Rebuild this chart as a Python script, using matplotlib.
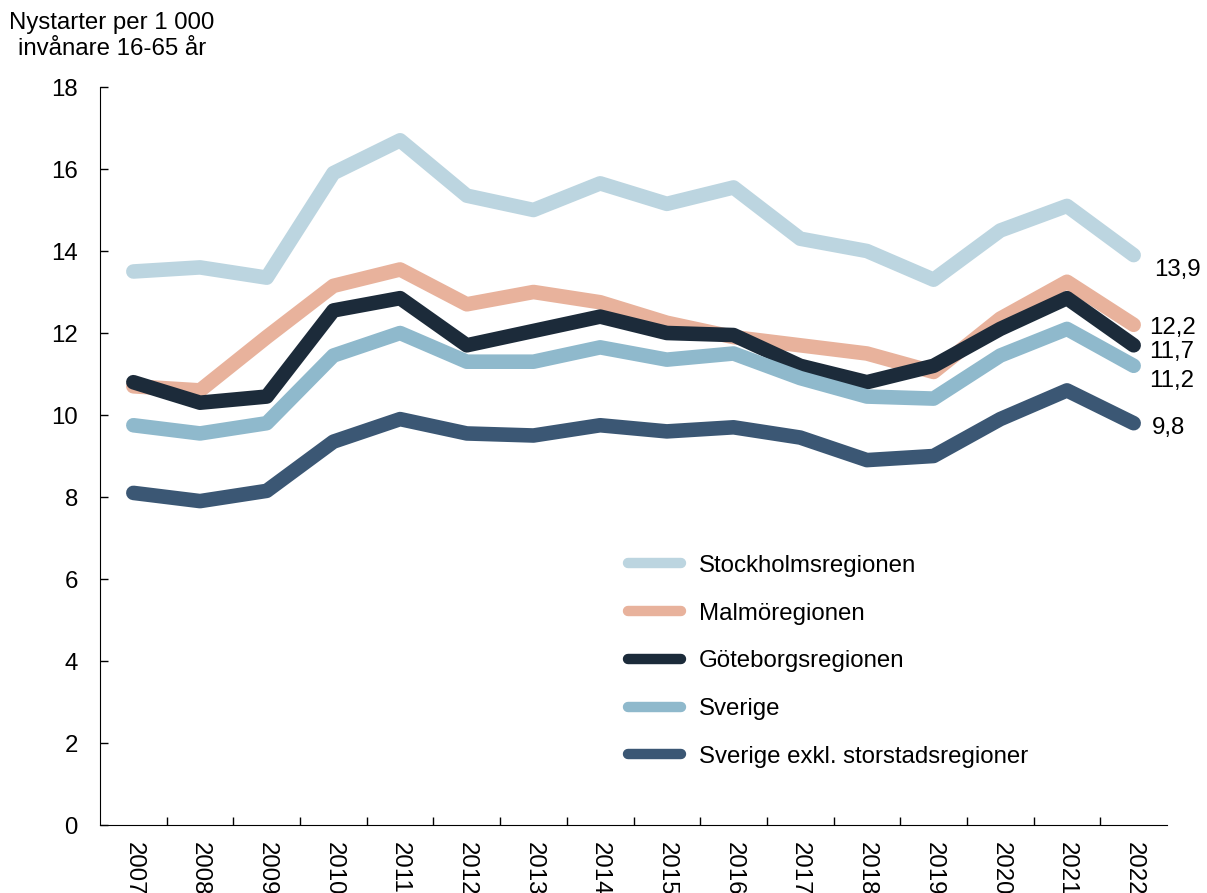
import matplotlib
matplotlib.use("Agg")
import matplotlib.pyplot as plt

years = ["2007", "2008", "2009", "2010", "2011", "2012", "2013", "2014",
         "2015", "2016", "2017", "2018", "2019", "2020", "2021", "2022"]

stockholm = [13.5, 13.6, 13.35, 15.9, 16.7, 15.35, 15.0, 15.65,
             15.15, 15.55, 14.3, 14.0, 13.3, 14.5, 15.1, 13.9]
malmo = [10.7, 10.6, 11.9, 13.15, 13.55, 12.7, 13.0, 12.75,
         12.25, 11.9, 11.7, 11.5, 11.05, 12.35, 13.25, 12.2]
goteborg = [10.8, 10.3, 10.45, 12.55, 12.85, 11.7, 12.05, 12.4,
            12.0, 11.95, 11.2, 10.8, 11.2, 12.1, 12.85, 11.7]
sverige = [9.75, 9.55, 9.8, 11.45, 12.0, 11.3, 11.3, 11.65,
           11.35, 11.5, 10.9, 10.45, 10.4, 11.45, 12.1, 11.2]
exkl = [8.1, 7.9, 8.15, 9.35, 9.9, 9.55, 9.5, 9.75,
        9.6, 9.7, 9.45, 8.9, 9.0, 9.9, 10.6, 9.8]

names = ["Stockholmsregionen", "Malmöregionen", "Göteborgsregionen",
         "Sverige", "Sverige exkl. storstadsregioner"]
colors = ["#bcd5e0", "#e8b29c", "#1c2b3a", "#8fb9cc", "#3b5774"]
# small nudges for the end labels so they don't collide
label_dy = [-0.37, -0.07, -0.17, -0.37, -0.12]
label_dx = [0.3, 0.23, 0.23, 0.23, 0.28]

plt.rcParams["font.family"] = ["Liberation Sans", "DejaVu Sans"]
FS = 17.3

fig = plt.figure(figsize=(12.07, 8.93), dpi=100)
ax = fig.add_axes([100 / 1207, 1 - 825 / 893, 1067 / 1207, (825 - 87) / 893])

x = list(range(len(years)))
series = [stockholm, malmo, goteborg, sverige, exkl]
for vals, name, col, dx, dy in zip(series, names, colors, label_dx, label_dy):
    ax.plot(x, vals, color=col, lw=10.5, solid_capstyle="round",
            solid_joinstyle="round", label=name)
    ax.text(x[-1] + dx, vals[-1] + dy, f"{vals[-1]:.1f}".replace(".", ","),
            fontsize=FS, va="center", ha="left")

ax.set_xlim(-0.5, len(years) - 0.5)
ax.set_ylim(0, 18)
ax.set_yticks(range(0, 19, 2))
ax.tick_params(axis="y", labelsize=FS, length=6, width=1, direction="in",
               pad=16)

# category labels at centres, tick marks between categories
ax.set_xticks(x)
ax.set_xticklabels(years, rotation=270, fontsize=FS, va="top")
ax.tick_params(axis="x", which="major", length=0, pad=12)
ax.set_xticks([i + 0.5 for i in x[:-1]], minor=True)
ax.tick_params(axis="x", which="minor", length=6, width=1, direction="in")

for s in ["top", "right"]:
    ax.spines[s].set_visible(False)

fig.text(112 / 1207, 1 - 36 / 893, "Nystarter per 1 000\ninvånare 16-65 år",
         ha="center", va="center", fontsize=FS, linespacing=1.28)

leg = ax.legend(loc="upper left", bbox_to_anchor=(0.495, 0.366),
                frameon=False, fontsize=FS, handlelength=2.2,
                labelspacing=1.07, handletextpad=0.75, borderpad=0,
                borderaxespad=0)
for h in leg.get_lines():
    h.set_linewidth(7.5)

fig.savefig("out.png", dpi=100)
